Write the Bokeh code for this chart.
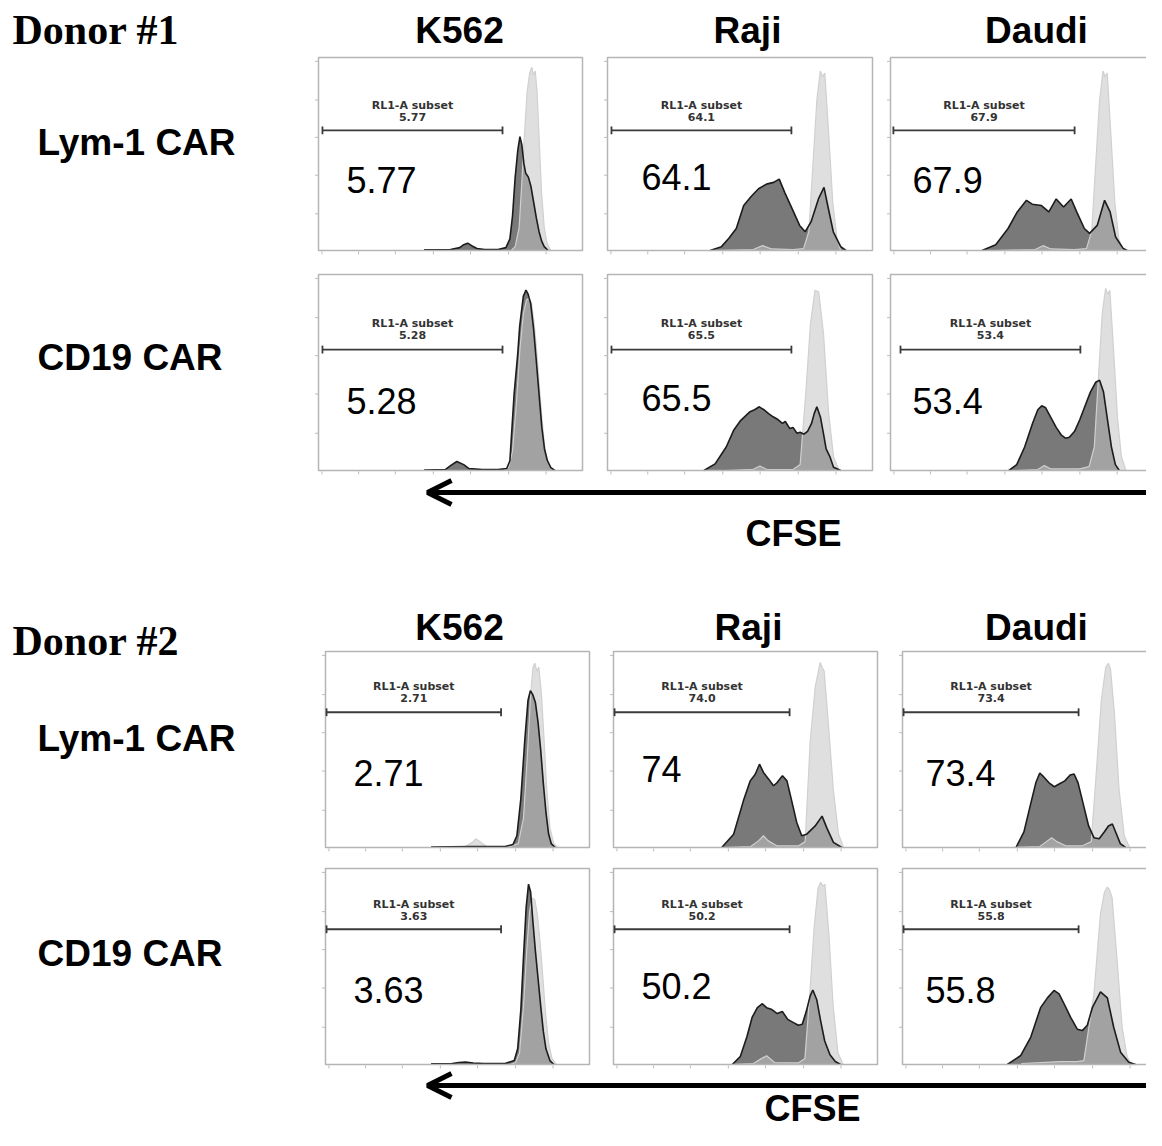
from bokeh.plotting import figure
from bokeh.models import Range1d, Arrow, OpenHead
from bokeh.core.properties import value
from bokeh.embed import file_html
from bokeh.resources import INLINE

# ---------------- data ----------------
donors = ["Donor #1", "Donor #2"]
cell_lines = ["K562", "Raji", "Daudi"]
car_types = ["Lym-1 CAR", "CD19 CAR"]
axis_label = "CFSE"
gate_name = "RL1-A subset"

d1_gate_values = [["5.77", "64.1", "67.9"], ["5.28", "65.5", "53.4"]]
d1_big_values = [["5.77", "64.1", "67.9"], ["5.28", "65.5", "53.4"]]
d2_gate_values = [["2.71", "74.0", "73.4"], ["3.63", "50.2", "55.8"]]
d2_big_values = [["2.71", "74", "73.4"], ["3.63", "50.2", "55.8"]]

# Histograms: x = CFSE channel (% of axis), y = count (% of axis max)
# ---- Donor 1, Lym-1 CAR ----
d1_lym_k562_ctrl_x = [73, 74.5, 76, 77, 78, 79, 80, 80.8, 81.4, 82.1, 82.8, 83.5, 84.5, 85.5, 86.5, 88]
d1_lym_k562_ctrl_y = [0, 2, 12, 35, 60, 82, 92, 95, 91, 93, 82, 60, 30, 12, 4, 0]
d1_lym_k562_samp_x = [40, 50, 53.5, 55, 56.5, 58, 60, 63, 68, 71, 72.5, 73.5, 74.5, 75.5, 76.3, 77, 77.8, 78.5, 79.5, 80.5, 81.5, 82.5, 83.5, 84.5, 85.5, 87]
d1_lym_k562_samp_y = [0.3, 0.5, 1.5, 3, 3.8, 2.5, 1, 0.5, 0.5, 1.5, 6, 18, 38, 52, 59, 55, 45, 40, 38, 33, 25, 17, 10, 5, 2, 0]

d1_lym_raji_ctrl_x = [40, 55, 58.5, 62, 70, 74, 76, 77.5, 79, 80.3, 81.2, 82, 83.5, 85, 86.6, 88]
d1_lym_raji_ctrl_y = [0, 0.5, 2.5, 0.8, 0.5, 1, 10, 44, 78, 93, 90, 92, 60, 25, 6, 0]
d1_lym_raji_samp_x = [38.7, 43, 45.8, 48.6, 51.4, 54.2, 57, 60, 62.7, 64.8, 66.9, 69.7, 72.5, 74.6, 76.8, 79.6, 81.7, 83.1, 85.2, 88, 90]
d1_lym_raji_samp_y = [0, 2, 6.3, 11.4, 23.3, 28, 32, 34.4, 35.3, 37, 30, 21.6, 13, 9.7, 14.8, 26.7, 32.7, 23.3, 9.7, 2, 0]

d1_lym_daudi_ctrl_x = [40, 55, 58, 61, 70, 74.5, 76.5, 78, 79.5, 80.8, 81.6, 82.4, 83.8, 85.3, 86.8, 88.5]
d1_lym_daudi_ctrl_y = [0, 0.5, 2.5, 0.8, 0.5, 1, 10, 44, 78, 93, 90, 92, 60, 25, 6, 0]
d1_lym_daudi_samp_x = [34.8, 40, 44.7, 48.2, 51.7, 53.9, 57.4, 60.2, 63, 65.8, 68.7, 70.8, 73.7, 75.7, 78.6, 81.4, 83.5, 85.6, 88.5, 90]
d1_lym_daudi_samp_y = [0, 3, 11.4, 20, 26, 24, 23.3, 20, 26.7, 22.5, 26.7, 20, 11.4, 8.9, 13, 26, 20, 7, 1, 0]

# ---- Donor 1, CD19 CAR ----
d1_cd19_k562_ctrl_x = [70, 72, 73.5, 75, 76.3, 77.6, 78.8, 79.7, 80.6, 81.6, 82.6, 83.6, 84.6, 85.6, 86.6, 88, 89.5]
d1_cd19_k562_ctrl_y = [0, 1.5, 10, 35, 62, 80, 87, 88, 86, 76, 62, 44, 27, 13, 5, 1, 0]
d1_cd19_k562_samp_x = [40, 48, 50, 52.4, 55, 57, 62, 68, 71.3, 72.5, 74.1, 75.5, 76.2, 77.6, 78.6, 79.4, 80.4, 81.5, 82.5, 83.6, 84.6, 85.6, 86.7, 88, 89.5]
d1_cd19_k562_samp_y = [0.2, 0.5, 2.5, 4.6, 3, 1, 0.5, 0.5, 1, 5, 39, 60, 73.5, 89, 92, 90, 85, 72, 56, 38, 22, 11, 5, 1.5, 0]

d1_cd19_raji_ctrl_x = [45, 55, 57.5, 60, 70, 72.7, 74.8, 76.6, 78.3, 79.7, 81.5, 83.4, 85.3, 87.4]
d1_cd19_raji_ctrl_y = [0, 0.6, 2.3, 0.6, 0.5, 3, 39, 75, 92, 91, 70, 30, 7, 0]
d1_cd19_raji_samp_x = [36.4, 40.6, 44.8, 47.6, 50.3, 53.8, 55.5, 57.3, 59, 60.8, 62.5, 64.3, 66, 67.1, 68.8, 70, 71.5, 72.7, 74.1, 75.5, 77, 78, 79, 80.4, 81.5, 82.5, 84, 85.3, 88]
d1_cd19_raji_samp_y = [0, 3.4, 12, 20.5, 25.6, 30, 31, 32.5, 31, 29, 27.4, 26, 24, 25, 21.4, 22, 19, 19.5, 18.5, 20, 24, 29, 32.5, 27, 18.8, 11, 6.8, 1.7, 0]

d1_cd19_daudi_ctrl_x = [48, 56, 58.5, 61, 72, 75.5, 77.5, 79, 80.5, 81.8, 82.6, 83.4, 84.8, 86.3, 87.8, 89.5]
d1_cd19_daudi_ctrl_y = [0, 0.5, 2.5, 0.8, 0.8, 2, 12, 46, 80, 93, 90, 92, 62, 27, 7, 0]
d1_cd19_daudi_samp_x = [45, 48, 51, 54, 56, 57.5, 59, 61, 63, 65, 66.5, 68, 70, 72, 74, 76, 78, 79.5, 81, 82.5, 84, 85.5, 87]
d1_cd19_daudi_samp_y = [0, 3, 12, 24, 31, 33, 32, 27, 22, 18, 16.5, 17, 20, 26, 33, 40, 45, 46, 40, 26, 12, 3, 0]

# ---- Donor 2, Lym-1 CAR ----
d2_lym_k562_ctrl_x = [45, 53, 55.5, 57, 58.5, 61, 70, 73, 75, 76.5, 77.7, 78.6, 79.3, 80, 80.8, 81.8, 82.8, 83.8, 85, 86.5, 88]
d2_lym_k562_ctrl_y = [0, 0.5, 2.5, 4.5, 3, 0.5, 0.5, 2, 15, 48, 78, 92, 94, 90, 92, 78, 55, 30, 10, 2, 0]
d2_lym_k562_samp_x = [40, 55, 60, 68, 71, 72.5, 74, 75.5, 76.7, 77.6, 78.5, 79.5, 80.5, 81.5, 82.5, 83.5, 84.5, 85.5, 87]
d2_lym_k562_samp_y = [0.2, 0.5, 0.5, 0.5, 1.5, 6, 25, 55, 75, 80, 78, 74, 64, 50, 33, 18, 7, 2, 0]

d2_lym_raji_ctrl_x = [42, 52, 55, 56.8, 58.5, 62, 70, 72.6, 74.5, 76.4, 78.3, 79, 79.8, 81.4, 83.3, 85.2, 87.1]
d2_lym_raji_ctrl_y = [0, 0.5, 3.5, 6, 3.5, 0.8, 0.8, 3, 54, 82, 94.4, 92, 90, 63, 29, 7, 0]
d2_lym_raji_samp_x = [41, 45.5, 49.2, 51.8, 53.7, 55.3, 56.8, 58.7, 60.6, 61.9, 64, 65.7, 67.5, 69.4, 71.3, 73.2, 76.4, 79, 80.8, 83.3, 86.5]
d2_lym_raji_samp_y = [0, 6.8, 23.8, 34, 37.4, 42.5, 38.3, 35, 31.5, 33, 36.6, 34, 23.8, 12.8, 6, 6.8, 11, 16, 10, 2.6, 0]

d2_lym_daudi_ctrl_x = [42, 52, 54.5, 56.5, 58.5, 62, 68, 71.5, 73.5, 75.3, 77, 78, 78.8, 80.3, 82, 84, 86]
d2_lym_daudi_ctrl_y = [0, 0.5, 3, 5, 3, 0.8, 0.8, 3, 40, 75, 92, 94, 91, 68, 30, 6, 0]
d2_lym_daudi_samp_x = [43, 46, 48.5, 50.5, 52, 53.5, 55.5, 57.5, 59.5, 61.5, 63.5, 65, 66.5, 68.5, 70.5, 72.5, 74.5, 76.5, 78, 79.5, 81, 82.5, 84.5]
d2_lym_daudi_samp_y = [0, 8, 22, 33, 38, 36, 33, 31, 32.5, 34, 37, 37.5, 33, 22, 11, 5, 4.5, 8, 11, 12, 7, 2, 0]

# ---- Donor 2, CD19 CAR ----
d2_cd19_k562_ctrl_x = [70, 72, 73.5, 75, 76.3, 77.3, 78.3, 79.3, 80.3, 81.3, 82.3, 83.3, 84.5, 85.8, 87.5]
d2_cd19_k562_ctrl_y = [0, 1, 6, 30, 60, 78, 85, 84, 76, 62, 45, 27, 11, 3, 0]
d2_cd19_k562_samp_x = [40, 48, 50.5, 53, 56, 60, 68, 71.5, 72.8, 74, 75, 76, 76.9, 77.7, 78.5, 79.5, 80.5, 81.5, 82.5, 83.5, 85, 86.5]
d2_cd19_k562_samp_y = [0.3, 0.5, 1, 1.2, 0.8, 0.5, 0.5, 2, 8, 28, 55, 80, 92, 88, 74, 58, 44, 30, 17, 8, 2, 0]

d2_cd19_raji_ctrl_x = [45, 53, 56, 58, 61, 70, 72.5, 74.3, 76, 77.5, 78.5, 79.3, 80.1, 81.6, 83.2, 85, 87]
d2_cd19_raji_ctrl_y = [0, 0.5, 3, 4.5, 1, 0.8, 3, 35, 70, 90, 93, 91, 92, 66, 30, 6, 0]
d2_cd19_raji_samp_x = [45, 48, 50.5, 52.5, 54.5, 56.4, 58, 60, 62, 64, 66, 68, 70, 71.5, 73, 74.5, 75.5, 77, 78.5, 80, 82, 84, 86]
d2_cd19_raji_samp_y = [0, 4, 14, 24, 29, 31, 29, 28, 26, 27, 23, 21.5, 20, 20.5, 27, 35, 38, 33, 22, 12, 5, 1.5, 0]

d2_cd19_daudi_ctrl_x = [45, 60, 66, 68.7, 72.5, 75, 76.5, 77.6, 78.5, 79.4, 81.3, 83.2, 85.1, 87]
d2_cd19_daudi_ctrl_y = [0.5, 1.5, 1.5, 2, 36, 77, 88, 90.5, 89, 85, 53, 19, 3.7, 0]
d2_cd19_daudi_samp_x = [39.7, 44.8, 48.6, 52.3, 54.9, 57.4, 59.3, 61.2, 63.7, 66.2, 68.1, 70, 71.9, 75, 77.6, 80, 82.6, 85.7, 88.3]
d2_cd19_daudi_samp_y = [0, 4.6, 14, 29, 34, 37.8, 36, 31, 24, 18, 17.3, 20, 29, 37, 34, 19, 6.3, 1.2, 0]

axis_ticks_y = [19, 39, 58.6, 78, 98]
axis_ticks_x = [1.3, 15.2, 29.1, 43.5, 57.6, 72, 86.2]

# ---------------- assemble ----------------
hist = {
    (0, 0, 0): (d1_lym_k562_ctrl_x, d1_lym_k562_ctrl_y, d1_lym_k562_samp_x, d1_lym_k562_samp_y),
    (0, 0, 1): (d1_lym_raji_ctrl_x, d1_lym_raji_ctrl_y, d1_lym_raji_samp_x, d1_lym_raji_samp_y),
    (0, 0, 2): (d1_lym_daudi_ctrl_x, d1_lym_daudi_ctrl_y, d1_lym_daudi_samp_x, d1_lym_daudi_samp_y),
    (0, 1, 0): (d1_cd19_k562_ctrl_x, d1_cd19_k562_ctrl_y, d1_cd19_k562_samp_x, d1_cd19_k562_samp_y),
    (0, 1, 1): (d1_cd19_raji_ctrl_x, d1_cd19_raji_ctrl_y, d1_cd19_raji_samp_x, d1_cd19_raji_samp_y),
    (0, 1, 2): (d1_cd19_daudi_ctrl_x, d1_cd19_daudi_ctrl_y, d1_cd19_daudi_samp_x, d1_cd19_daudi_samp_y),
    (1, 0, 0): (d2_lym_k562_ctrl_x, d2_lym_k562_ctrl_y, d2_lym_k562_samp_x, d2_lym_k562_samp_y),
    (1, 0, 1): (d2_lym_raji_ctrl_x, d2_lym_raji_ctrl_y, d2_lym_raji_samp_x, d2_lym_raji_samp_y),
    (1, 0, 2): (d2_lym_daudi_ctrl_x, d2_lym_daudi_ctrl_y, d2_lym_daudi_samp_x, d2_lym_daudi_samp_y),
    (1, 1, 0): (d2_cd19_k562_ctrl_x, d2_cd19_k562_ctrl_y, d2_cd19_k562_samp_x, d2_cd19_k562_samp_y),
    (1, 1, 1): (d2_cd19_raji_ctrl_x, d2_cd19_raji_ctrl_y, d2_cd19_raji_samp_x, d2_cd19_raji_samp_y),
    (1, 1, 2): (d2_cd19_daudi_ctrl_x, d2_cd19_daudi_ctrl_y, d2_cd19_daudi_samp_x, d2_cd19_daudi_samp_y),
}
gate_values = [d1_gate_values, d2_gate_values]
big_values = [d1_big_values, d2_big_values]

# ---------------- layout (picture pixels) ----------------
W, H = 1146, 1130
col_bounds = [[(318, 582), (607, 872), (890, 1153)], [(325, 589), (613, 877), (902, 1166)]]
row_bounds = [[(57, 250), (274, 470)], [(651, 847), (868, 1064)]]
gate_spans = [
    [[(1.5, 69.7), (1.5, 69.4), (1.1, 70.0)], [(1.5, 69.7), (1.5, 69.4), (3.8, 72.2)]],
    [[(0.4, 66.5), (0.4, 66.7), (0.4, 66.7)], [(0.4, 66.5), (0.4, 66.7), (0.4, 66.7)]],
]
gate_levels = [[(62.2, 75.0, 69.0), (61.7, 75.0, 69.0)], [(69.0, 82.0, 76.5), (69.0, 81.6, 76.0)]]
big_x = [[10.6, 12.8, 8.4], [10.6, 10.6, 8.7]]
big_y = [[(36.3, 38.3, 36.3), (35.7, 37.2, 35.7)], [(37.8, 39.8, 37.8), (37.8, 39.8, 37.8)]]
header_y = [30, 627]
header_x = [[459, 747, 1036], [459, 748, 1036]]
row_label_y = [[142, 357], [738, 953]]
donor_y = [29, 640]
arrow_y = [492, 1085]
cfse_xy = [(793, 533), (812, 1108)]

DARK = "#797979"
CTRL = "#c4c4c4"

p = figure(width=W, height=H, x_range=Range1d(0, W), y_range=Range1d(H, 0),
           x_axis_type=None, y_axis_type=None, output_backend="svg",
           toolbar_location=None, min_border=0, outline_line_color=None,
           background_fill_color="white", border_fill_color="white")

SANS = value("Liberation Sans")

for d in range(2):
    # donor label
    p.text(x=[12], y=[donor_y[d]], text=[donors[d]], text_font=value("Liberation Serif"),
           text_font_style="bold", text_font_size="42px", text_align="left",
           text_baseline="middle", text_color="black")
    # column headers
    p.text(x=header_x[d], y=[header_y[d]] * 3, text=cell_lines, text_font=SANS,
           text_font_style="bold", text_font_size="37px", text_align="center",
           text_baseline="middle", text_color="black")
    # row labels
    p.text(x=[37, 37], y=row_label_y[d], text=car_types, text_font=SANS,
           text_font_style="bold", text_font_size="37px", text_align="left",
           text_baseline="middle", text_color="black")

    for r in range(2):
        ytop, ybot = row_bounds[d][r]
        for c in range(3):
            x0, x1 = col_bounds[d][c]
            cx, cy, sx, sy = hist[(d, r, c)]
            sub = p.subplot(x_source=Range1d(0, 100), y_source=Range1d(0, 100),
                            x_target=Range1d(x0, x1), y_target=Range1d(ybot, ytop))
            sub.varea(x=sx, y1=0, y2=sy, fill_color=DARK)
            sub.varea(x=cx, y1=0, y2=cy, fill_color=CTRL, fill_alpha=0.55)
            sub.line(x=cx, y=cy, line_color="#d0d0d0", line_width=1.2)
            sub.line(x=sx, y=sy, line_color="#1c1c1c", line_width=1.6)
            sub.quad(left=[0], right=[100], bottom=[0], top=[100], fill_color=None,
                     line_color="#b5b5b5", line_width=1.5)
            sub.segment(x0=[-1.3] * len(axis_ticks_y), x1=[-0.2] * len(axis_ticks_y),
                        y0=axis_ticks_y, y1=axis_ticks_y, line_color="#bbbbbb", line_width=1)
            sub.segment(x0=axis_ticks_x, x1=axis_ticks_x, y0=[-0.5] * len(axis_ticks_x),
                        y1=[-2.0] * len(axis_ticks_x), line_color="#bbbbbb", line_width=1)
            g0, g1 = gate_spans[d][r][c]
            gy, ny, vy = gate_levels[d][r]
            sub.segment(x0=[g0], x1=[g1], y0=[gy], y1=[gy], line_color="#3a3a3a", line_width=1.8)
            sub.segment(x0=[g0, g1], x1=[g0, g1], y0=[gy - 2] * 2, y1=[gy + 2] * 2,
                        line_color="#3a3a3a", line_width=1.8)
            gm = (g0 + g1) / 2
            sub.text(x=[gm, gm], y=[ny, vy], text=[gate_name, gate_values[d][r][c]],
                     text_font=value("DejaVu Sans"), text_font_style="bold",
                     text_font_size="11px", text_align="center", text_baseline="middle",
                     text_color="#333333")
            sub.text(x=[big_x[d][c]], y=[big_y[d][r][c]], text=[big_values[d][r][c]],
                     text_font=SANS, text_font_size="36px", text_align="left",
                     text_baseline="middle", text_color="black")

    # CFSE arrow
    p.add_layout(Arrow(end=OpenHead(size=24, line_width=5, line_color="black"),
                       x_start=1170, y_start=arrow_y[d], x_end=427, y_end=arrow_y[d],
                       line_width=5, line_color="black"))
    p.text(x=[cfse_xy[d][0]], y=[cfse_xy[d][1]], text=[axis_label], text_font=SANS,
           text_font_style="bold", text_font_size="36px", text_align="center",
           text_baseline="middle", text_color="black")

open("out.html", "w").write(file_html(p, INLINE))
